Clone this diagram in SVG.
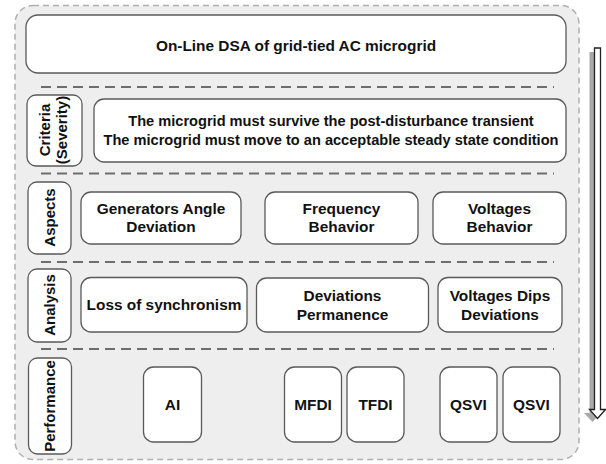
<svg xmlns="http://www.w3.org/2000/svg" width="606" height="464" viewBox="0 0 606 464">
<defs>
<style>
.box{fill:#fff;stroke:#5a5a5a;stroke-width:1.3}
.sep{stroke:#6e6e6e;stroke-width:2;stroke-dasharray:10 6;fill:none}
.t{font-family:"Liberation Sans",Arial,sans-serif;font-weight:bold;font-size:15.4px;fill:#111;text-anchor:middle}
.c{font-size:14.6px}
.r{font-size:15px}
</style>
</defs>
<rect x="0" y="0" width="606" height="464" fill="#fff"/>
<rect id="container" x="15" y="5.5" width="564" height="454" rx="18" fill="#eeeeee" stroke="#b0b0b0" stroke-width="1.5" stroke-dasharray="6 4"/>
<g id="separators">
<line class="sep" x1="41" y1="87" x2="554" y2="87"/>
<line class="sep" x1="41" y1="173.5" x2="554" y2="173.5"/>
<line class="sep" x1="41" y1="262" x2="554" y2="262"/>
<line class="sep" x1="41" y1="349" x2="554" y2="349"/>
</g>
<g id="title">
<rect class="box" x="26" y="15" width="540" height="58" rx="12"/>
<text class="t" x="296" y="50.5">On-Line DSA of grid-tied AC microgrid</text>
</g>
<g id="criteria-label">
<rect class="box" x="27" y="95" width="55" height="71" rx="9"/>
<g transform="translate(54.5,130) rotate(-90)">
<text class="t r" x="0" y="-4.5">Criteria</text>
<text class="t r" x="0" y="12">(Severity)</text>
</g>
</g>
<g id="criteria">
<rect class="box" x="94" y="99" width="472" height="63" rx="10"/>
<text class="t c" x="331" y="126">The microgrid must survive the post-disturbance transient</text>
<text class="t c" x="331" y="144.6">The microgrid must move to an acceptable steady state condition</text>
</g>
<g id="aspects-label">
<rect class="box" x="28" y="182" width="43" height="72" rx="9"/>
<text class="t r" transform="translate(49.5,217.5) rotate(-90)" x="0" y="5.5">Aspects</text>
</g>
<g id="gen-angle">
<rect class="box" x="81" y="192" width="160" height="52" rx="10"/>
<text class="t" x="161" y="213.8">Generators Angle</text>
<text class="t" x="161" y="232.2">Deviation</text>
</g>
<g id="frequency">
<rect class="box" x="265" y="192" width="153" height="52" rx="10"/>
<text class="t" x="341.5" y="213.8">Frequency</text>
<text class="t" x="341.5" y="232.2">Behavior</text>
</g>
<g id="voltages">
<rect class="box" x="433" y="192" width="133" height="52" rx="10"/>
<text class="t" x="499.5" y="213.8">Voltages</text>
<text class="t" x="499.5" y="232.2">Behavior</text>
</g>
<g id="analysis-label">
<rect class="box" x="28" y="269" width="43" height="73" rx="9"/>
<text class="t r" transform="translate(49.5,305) rotate(-90)" x="0" y="5.5">Analysis</text>
</g>
<g id="loss-sync">
<rect class="box" x="81" y="277.5" width="166" height="54.5" rx="10"/>
<text class="t" x="164" y="309.5">Loss of synchronism</text>
</g>
<g id="dev-perm">
<rect class="box" x="256.5" y="278" width="172" height="54" rx="10"/>
<text class="t" x="342.5" y="300.5">Deviations</text>
<text class="t" x="342.5" y="319.5">Permanence</text>
</g>
<g id="volt-dips">
<rect class="box" x="438" y="277.5" width="124" height="54.5" rx="10"/>
<text class="t" x="500" y="300.5">Voltages Dips</text>
<text class="t" x="500" y="319.5">Deviations</text>
</g>
<g id="performance-label">
<rect class="box" x="28.5" y="358" width="43" height="96" rx="9"/>
<text class="t r" transform="translate(49.5,406) rotate(-90)" x="0" y="5.5">Performance</text>
</g>
<g id="ai">
<rect class="box" x="143.5" y="367" width="58" height="75" rx="10"/>
<text class="t" x="172.5" y="409.5">AI</text>
</g>
<g id="mfdi">
<rect class="box" x="284.5" y="367" width="57" height="75" rx="10"/>
<text class="t" x="313" y="409.5">MFDI</text>
</g>
<g id="tfdi">
<rect class="box" x="347" y="367" width="57" height="75" rx="10"/>
<text class="t" x="375.5" y="409.5">TFDI</text>
</g>
<g id="qsvi1">
<rect class="box" x="440" y="367" width="57" height="75" rx="10"/>
<text class="t" x="468.5" y="409.5">QSVI</text>
</g>
<g id="qsvi2">
<rect class="box" x="503" y="367" width="57" height="75" rx="10"/>
<text class="t" x="531.5" y="409.5">QSVI</text>
</g>
<g id="connectors">
<polygon points="589.5,52 595.5,52 595.5,413 601,413 592.5,422 584,413 589.5,413" fill="#a8a8a8"/>
<polygon points="594.5,48 600.5,48 600.5,409.5 605.5,409.5 597.5,418.5 589.5,409.5 594.5,409.5" fill="#fff" stroke="#222" stroke-width="1.3"/>
</g>
</svg>
